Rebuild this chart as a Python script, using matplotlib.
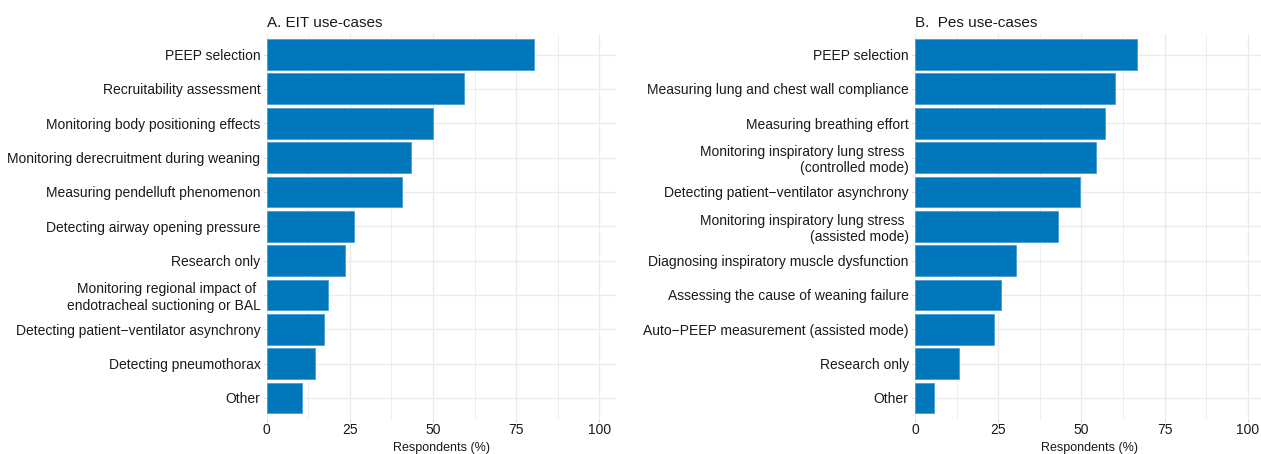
import matplotlib
matplotlib.use("Agg")
import matplotlib.pyplot as plt
from matplotlib.ticker import MultipleLocator

plt.rcParams['font.family'] = ['Liberation Sans', 'DejaVu Sans']

# EIT use-cases (n = 76 respondents)
eit_labels = [
    "PEEP selection",
    "Recruitability assessment",
    "Monitoring body positioning effects",
    "Monitoring derecruitment during weaning",
    "Measuring pendelluft phenomenon",
    "Detecting airway opening pressure",
    "Research only",
    "Monitoring regional impact of \nendotracheal suctioning or BAL",
    "Detecting patient\u2212ventilator asynchrony",
    "Detecting pneumothorax",
    "Other",
]
eit_counts = [61, 45, 38, 33, 31, 20, 18, 14, 13, 11, 8]
eit_n = 76

# Pes use-cases (n = 105 respondents)
pes_labels = [
    "PEEP selection",
    "Measuring lung and chest wall compliance",
    "Measuring breathing effort",
    "Monitoring inspiratory lung stress \n(controlled mode)",
    "Detecting patient\u2212ventilator asynchrony",
    "Monitoring inspiratory lung stress \n(assisted mode)",
    "Diagnosing inspiratory muscle dysfunction",
    "Assessing the cause of weaning failure",
    "Auto\u2212PEEP measurement (assisted mode)",
    "Research only",
    "Other",
]
pes_counts = [70, 63, 60, 57, 52, 45, 32, 27, 25, 14, 6]
pes_n = 105

x_ticks = [0, 25, 50, 75, 100]
bar_color = "#0077BB"
grid_color = "#EBEBEB"
text_color = "#1A1A1A"

W, H = 1261, 454
fig = plt.figure(figsize=(W / 100, H / 100), dpi=100)
fig.patch.set_facecolor("white")

panel_w = 349.3 / W
panel_bottom = 1 - 418.6 / H
panel_h = (418.6 - 34.0) / H


def draw_panel(left_px, labels, counts, n, title):
    ax = fig.add_axes([left_px / W, panel_bottom, panel_w, panel_h])
    pct = [100.0 * c / n for c in counts]
    ypos = list(range(len(labels)))[::-1]
    ax.barh(ypos, pct, height=0.9, color=bar_color,
            edgecolor="#4A9ED3", linewidth=0.6, zorder=3)
    ax.set_xlim(0, 105)
    ax.set_ylim(-0.6, len(labels) - 0.4)
    ax.set_yticks(ypos)
    ax.set_yticklabels(labels, fontsize=10, color=text_color,
                       multialignment="right")
    ax.set_xticks(x_ticks)
    ax.set_xticklabels([str(t) for t in x_ticks], fontsize=10, color=text_color)
    ax.xaxis.set_minor_locator(MultipleLocator(12.5))
    ax.grid(True, which="major", axis="both", color=grid_color, linewidth=1.0, zorder=0)
    ax.grid(True, which="minor", axis="x", color=grid_color, linewidth=0.6, zorder=0)
    ax.tick_params(axis="y", which="major", length=2.5, width=0.6,
                   color="#CCCCCC", pad=2)
    ax.tick_params(axis="x", which="major", length=2.0, width=0.6,
                   color="#CCCCCC", pad=1)
    ax.tick_params(axis="x", which="minor", length=0)
    for s in ax.spines.values():
        s.set_visible(False)
    ax.set_xlabel("Respondents (%)", fontsize=9, color=text_color, labelpad=3.5)
    ax.set_title(title, loc="left", fontsize=11, color=text_color, pad=5)
    return ax


draw_panel(266.7, eit_labels, eit_counts, eit_n, "A. EIT use-cases")
draw_panel(915.0, pes_labels, pes_counts, pes_n, "B.  Pes use-cases")

fig.savefig("out.png", dpi=100, facecolor="white")
